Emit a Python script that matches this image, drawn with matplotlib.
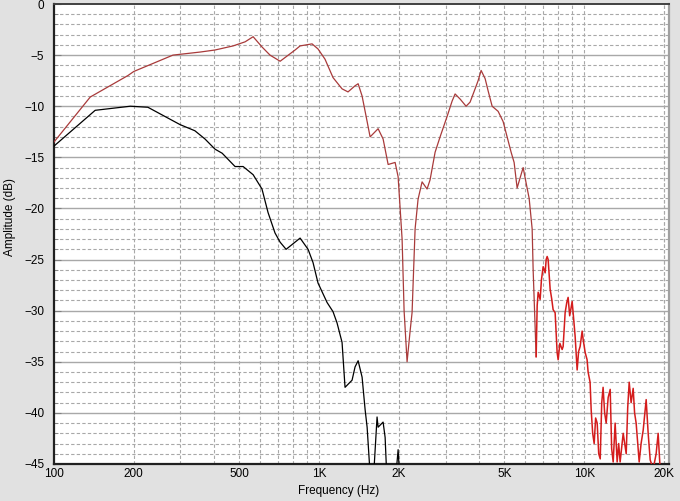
import numpy as np
import matplotlib
matplotlib.use('Agg')
import matplotlib.pyplot as plt
from matplotlib.ticker import FixedLocator, NullFormatter

# ---- data ----
red_freq = [100, 137, 190, 200, 281, 356, 405, 474, 526, 564, 609, 653, 713,
            812, 848, 941, 991, 1053, 1129, 1221, 1286, 1367, 1404, 1453, 1505,
            1558, 1613, 1670, 1744, 1822, 1936, 1987, 2057, 2093, 2148, 2205,
            2243, 2303, 2363, 2447, 2555, 2623, 2740, 2861, 3041, 3176, 3260,
            3405, 3586, 3713, 3878, 3981, 4087, 4231, 4343, 4497, 4737, 4947,
            5122, 5303, 5443, 5587, 5735, 5887, 6040, 6201, 6366, 6421, 6591,
            6650, 6707, 6823, 6900, 7004, 7127, 7190, 7252, 7315, 7443, 7540,
            7638, 7773, 7909, 7979, 8100, 8260, 8333, 8478, 8600, 8701, 8820,
            8931, 9009, 9088, 9247, 9410, 9530, 9658, 9828, 9913, 10090, 10260,
            10350, 10530, 10630, 10770, 10910, 11050, 11200, 11350, 11500,
            11650, 11790, 11950, 12110, 12320, 12540, 12700, 12870, 13090,
            13320, 13500, 13670, 14040, 14410, 14600, 14790, 15040, 15310,
            15500, 15710, 16130, 16400, 16700, 17140, 17440, 17750, 18220,
            18690, 19020, 19350, 19700]
red_db = [-13.5, -9.1, -7.0, -6.6, -5.0, -4.7, -4.5, -4.1, -3.7, -3.2, -4.2,
          -5.0, -5.6, -4.5, -4.1, -3.9, -4.4, -5.4, -7.2, -8.3, -8.6, -8.0,
          -7.8, -9.0, -11.0, -13.0, -12.6, -12.2, -13.2, -15.7, -15.5, -16.9,
          -23.0, -30.0, -35.0, -32.0, -30.2, -22.0, -19.1, -17.4, -18.1, -17.2,
          -14.5, -13.0, -11.0, -9.5, -8.8, -9.3, -10.0, -9.6, -8.3, -7.5, -6.5,
          -7.3, -8.5, -10.0, -10.5, -11.5, -13.0, -14.5, -15.5, -18.0, -17.0,
          -16.0, -17.5, -19.0, -22.0, -26.0, -34.5,
          -29.5, -28.2, -28.9, -27.0, -25.7, -26.3, -25.0, -24.7, -25.0, -27.9,
          -28.8, -29.9, -30.2, -34.1, -34.8, -33.2, -33.8, -33.5, -30.2, -29.2,
          -28.7, -30.5, -29.7, -29.1, -30.2, -32.5, -35.8, -34.0, -33.5, -32.0,
          -32.8, -34.1, -34.8, -36.0, -37.0, -39.7, -42.0, -43.0, -40.5, -41.0,
          -44.0, -44.5, -39.0, -37.5, -40.0, -41.0, -38.5, -37.7, -43.5, -44.8,
          -41.0, -44.8, -43.0, -44.8, -42.0, -44.0, -39.5, -37.0, -39.0, -37.6,
          -40.0, -41.0, -44.8, -43.0, -41.7, -38.7, -42.0, -44.6, -45.5, -44.0,
          -42.0, -45.5, -46.0]

black_freq = [100, 143, 194, 226, 299, 340, 371, 405, 431, 482, 517, 564, 609,
              642, 682, 713, 751, 848, 909, 949, 991, 1072, 1129, 1169, 1221,
              1253, 1332, 1367, 1404, 1453, 1492, 1518, 1558, 1599, 1655, 1670,
              1744, 1775, 1806, 1936, 1987, 2022, 2500, 5000, 20000]
black_db = [-13.9, -10.4, -10.0, -10.1, -11.8, -12.4, -13.2, -14.2, -14.6,
            -15.9, -15.9, -16.7, -18.1, -20.4, -22.4, -23.3, -24.0, -22.9,
            -24.0, -25.3, -27.3, -29.2, -30.1, -31.2, -33.1, -37.5, -36.8,
            -35.5, -34.9, -36.5, -39.7, -41.4, -46.0, -47.0, -40.4, -41.4,
            -40.9, -42.4, -47.0, -47.0, -43.6, -47.0, -52.0, -60.0, -70.0]

xtick_vals = [100, 200, 500, 1000, 2000, 5000, 10000, 20000]
xtick_labels = ['100', '200', '500', '1K', '2K', '5K', '10K', '20K']
xgrid_vals = [100 * m * 10 ** d for d in range(3) for m in range(1, 10)] + [20000]

plt.rcParams['font.family'] = ['Liberation Sans', 'DejaVu Sans']

fig = plt.figure(figsize=(6.8, 5.01), dpi=100, facecolor='#e1e1e1')
ax = fig.add_axes([54 / 680, 1 - 464 / 501, 615 / 680, 460 / 501])
ax.set_facecolor('white')

ax.set_xscale('log')
ax.set_xlim(100, 20900)
ax.set_ylim(-45, 0)

# grid: solid every 5 dB, dashed every 1 dB and at each log step
grid_col = '#a8a8a8'
for v in range(-40, 0, 5):
    ax.axhline(v, color=grid_col, lw=1.0, zorder=1)
for v in range(-44, 0):
    if v % 5:
        ax.axhline(v, color=grid_col, lw=0.8, dashes=(3, 2), zorder=1)
for v in xgrid_vals[1:]:
    ax.axvline(v, color=grid_col, lw=0.8, dashes=(3, 2), zorder=1)

ax.plot(black_freq, black_db, color='black', lw=0.9, zorder=3)
split = red_freq.index(6591)
ax.plot(red_freq[:split + 1], red_db[:split + 1], color='#a83a3a', lw=0.9, zorder=3)
ax.plot(red_freq[split:], red_db[split:], color='#d41c1c', lw=1.1, zorder=3)

ax.xaxis.set_major_locator(FixedLocator(xtick_vals))
ax.set_xticklabels(xtick_labels)
ax.xaxis.set_minor_locator(FixedLocator(xgrid_vals))
ax.xaxis.set_minor_formatter(NullFormatter())
ax.tick_params(axis='x', which='both', length=0, pad=3, labelsize=8.5, colors='black')

ax.set_yticks(range(-45, 1, 5))
ax.set_yticks(range(-45, 1), minor=True)
ax.tick_params(axis='y', which='major', direction='in', length=5, width=0.8,
               color='#808080', pad=7, labelsize=8.5)
ax.tick_params(axis='y', which='minor', direction='in', length=3, width=0.6,
               color='#808080')

ax.set_xlabel('Frequency (Hz)', fontsize=8.5)
ax.xaxis.set_label_coords(0.463, -0.045)
ax.set_ylabel('Amplitude (dB)', fontsize=8.5)
ax.yaxis.set_label_coords(-0.062, 0.537)

for side in ['left', 'bottom']:
    ax.spines[side].set_color('#202020')
    ax.spines[side].set_linewidth(1.6)
ax.spines['top'].set_color('#404040')
ax.spines['top'].set_linewidth(1.4)
ax.spines['right'].set_color('#a0a0a0')
ax.spines['right'].set_linewidth(1.6)

fig.savefig('out.png', dpi=100, facecolor=fig.get_facecolor())
plt.close(fig)
